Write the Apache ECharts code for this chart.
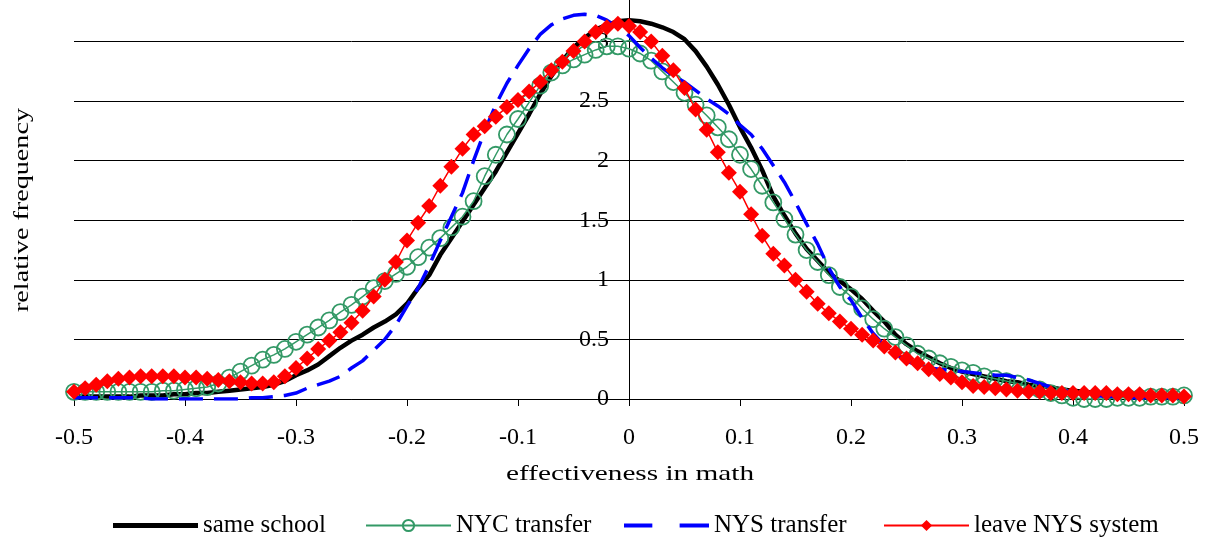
<!DOCTYPE html>
<html>
<head>
<meta charset="utf-8">
<script src="https://cdn.jsdelivr.net/npm/echarts@6/dist/echarts.min.js"></script>
<style>
  html, body { margin: 0; padding: 0; background: #ffffff; }
  #chart { width: 1209px; height: 540px; }
</style>
</head>
<body>
<div id="chart"></div>
<script>
// Teacher effectiveness in math: x positions of the density estimates
const effectiveness = [
  -0.50, -0.49, -0.48, -0.47, -0.46, -0.45, -0.44, -0.43, -0.42, -0.41,
  -0.40, -0.39, -0.38, -0.37, -0.36, -0.35, -0.34, -0.33, -0.32, -0.31,
  -0.30, -0.29, -0.28, -0.27, -0.26, -0.25, -0.24, -0.23, -0.22, -0.21,
  -0.20, -0.19, -0.18, -0.17, -0.16, -0.15, -0.14, -0.13, -0.12, -0.11,
  -0.10, -0.09, -0.08, -0.07, -0.06, -0.05, -0.04, -0.03, -0.02, -0.01,
   0.00,
   0.01,  0.02,  0.03,  0.04,  0.05,  0.06,  0.07,  0.08,  0.09,  0.10,
   0.11,  0.12,  0.13,  0.14,  0.15,  0.16,  0.17,  0.18,  0.19,  0.20,
   0.21,  0.22,  0.23,  0.24,  0.25,  0.26,  0.27,  0.28,  0.29,  0.30,
   0.31,  0.32,  0.33,  0.34,  0.35,  0.36,  0.37,  0.38,  0.39,  0.40,
   0.41,  0.42,  0.43,  0.44,  0.45,  0.46,  0.47,  0.48,  0.49,  0.50
];

// Relative frequency for each group of teachers
const sameSchool = [
  0.02, 0.02, 0.02, 0.02, 0.02, 0.02, 0.03, 0.03, 0.03, 0.04,
  0.04, 0.05, 0.05, 0.06, 0.07, 0.08, 0.09, 0.10, 0.12, 0.15,
  0.20, 0.24, 0.29, 0.36, 0.43, 0.49, 0.54, 0.60, 0.65, 0.71,
  0.80, 0.93, 1.04, 1.21, 1.35, 1.49, 1.63, 1.77, 1.91, 2.07,
  2.23, 2.39, 2.56, 2.71, 2.84, 2.95, 3.03, 3.10, 3.14, 3.17,
  3.18,
  3.17, 3.15, 3.12, 3.08, 3.02, 2.92, 2.79, 2.64, 2.47, 2.28,
  2.11, 1.92, 1.70, 1.54, 1.39, 1.26, 1.16, 1.06, 0.99, 0.92,
  0.84, 0.74, 0.65, 0.54, 0.46, 0.40, 0.35, 0.30, 0.26, 0.23,
  0.21, 0.19, 0.17, 0.15, 0.14, 0.12, 0.11, 0.10, 0.08, 0.07,
  0.06, 0.05, 0.04, 0.04, 0.03, 0.03, 0.03, 0.02, 0.02, 0.02
];

const nycTransfer = [
  0.06, 0.06, 0.06, 0.06, 0.06, 0.06, 0.06, 0.06, 0.07, 0.07,
  0.08, 0.09, 0.10, 0.13, 0.18, 0.23, 0.28, 0.33, 0.37, 0.42,
  0.48, 0.54, 0.60, 0.66, 0.73, 0.79, 0.86, 0.93, 0.99, 1.05,
  1.11, 1.19, 1.27, 1.35, 1.44, 1.53, 1.66, 1.87, 2.05, 2.22,
  2.35, 2.49, 2.63, 2.74, 2.80, 2.85, 2.89, 2.93, 2.96, 2.96,
  2.94,
  2.90, 2.84, 2.75, 2.66, 2.57, 2.47, 2.38, 2.28, 2.18, 2.05,
  1.93, 1.79, 1.65, 1.51, 1.38, 1.25, 1.15, 1.04, 0.94, 0.86,
  0.76, 0.67, 0.59, 0.52, 0.45, 0.38, 0.34, 0.30, 0.27, 0.24,
  0.22, 0.19, 0.17, 0.15, 0.13, 0.10, 0.08, 0.05, 0.03, 0.01,
  0.00, 0.00, 0.00, 0.01, 0.01, 0.01, 0.02, 0.02, 0.02, 0.03
];

const nysTransfer = [
  0.01, 0.01, 0.01, 0.01, 0.01, 0.01, 0.01, 0.00, 0.00, 0.00,
  0.00, 0.00, 0.00, 0.00, 0.00, 0.00, 0.01, 0.01, 0.02, 0.03,
  0.05, 0.09, 0.12, 0.15, 0.19, 0.26, 0.32, 0.41, 0.50, 0.62,
  0.78, 0.93, 1.12, 1.33, 1.53, 1.73, 2.00, 2.25, 2.47, 2.65,
  2.80, 2.94, 3.06, 3.14, 3.19, 3.22, 3.23, 3.22, 3.18, 3.12,
  3.05,
  2.95, 2.86, 2.78, 2.71, 2.66, 2.59, 2.52, 2.46, 2.39, 2.30,
  2.22, 2.10, 1.96, 1.82, 1.65, 1.47, 1.30, 1.10, 0.94, 0.83,
  0.68, 0.55, 0.45, 0.38, 0.32, 0.28, 0.26, 0.25, 0.24, 0.23,
  0.22, 0.21, 0.20, 0.20, 0.18, 0.16, 0.13, 0.10, 0.08, 0.05,
  0.04, 0.03, 0.02, 0.02, 0.01, 0.01, 0.01, 0.01, 0.01, 0.01
];

const leaveSystem = [
  0.06, 0.09, 0.12, 0.15, 0.17, 0.18, 0.19, 0.19, 0.19, 0.19,
  0.18, 0.18, 0.17, 0.16, 0.15, 0.14, 0.13, 0.13, 0.14, 0.19,
  0.26, 0.34, 0.42, 0.49, 0.56, 0.64, 0.74, 0.86, 1.00, 1.15,
  1.33, 1.48, 1.62, 1.79, 1.95, 2.10, 2.22, 2.29, 2.37, 2.45,
  2.51, 2.58, 2.66, 2.76, 2.83, 2.92, 3.00, 3.08, 3.12, 3.15,
  3.13,
  3.08, 3.00, 2.88, 2.76, 2.61, 2.43, 2.26, 2.07, 1.90, 1.74,
  1.55, 1.37, 1.22, 1.12, 1.00, 0.90, 0.80, 0.72, 0.65, 0.59,
  0.54, 0.49, 0.44, 0.39, 0.34, 0.30, 0.25, 0.21, 0.18, 0.14,
  0.11, 0.10, 0.09, 0.08, 0.07, 0.06, 0.06, 0.05, 0.05, 0.05,
  0.05, 0.05, 0.05, 0.04, 0.04, 0.04, 0.03, 0.03, 0.03, 0.02
];

const seriesNames = ['same school', 'NYC transfer', 'NYS transfer', 'leave NYS system'];

// Axis ranges and tick steps
const xRange = { min: -0.5, max: 0.5, step: 0.1 };
const yRange = { min: 0, max: 3.5, step: 0.5 };

const FONT = "Liberation Serif";
const GRID = { left: 74, right: 25, top: -18, bottom: 141 };
const CHART_W = 1209;

const toPairs = ys => effectiveness.map((x, i) => [x, ys[i]]);

// The value axis sits on x = 0, so shift it in from the left edge of the grid
const plotWidth = CHART_W - GRID.left - GRID.right;
const yAxisShift = plotWidth * (0 - xRange.min) / (xRange.max - xRange.min);

// One legend entry per component so each entry keeps its own place on the row
const legendLeft = [108, 360, 619, 878];
const legendIcons = [
  'path://M0,0H85V5H0Z',                     // thick solid line
  null,                                      // line with circle
  'path://M0,0H27V4H0Z M53,0H81V4H53Z',      // two dashes
  null                                       // line with diamond
];
const legends = seriesNames.map((name, i) => ({
  show: true,
  left: legendLeft[i],
  top: 508,
  orient: 'horizontal',
  itemWidth: 85,
  itemHeight: 14,
  itemGap: 0,
  selectedMode: false,
  data: [legendIcons[i] ? { name: name, icon: legendIcons[i] } : { name: name }],
  textStyle: { fontFamily: FONT, fontSize: 25, color: '#000000' }
}));

const chart = echarts.init(document.getElementById('chart'), null, { renderer: 'canvas' });

chart.setOption({
  animation: false,
  backgroundColor: '#ffffff',
  textStyle: { fontFamily: FONT, color: '#000000' },
  grid: {
    left: GRID.left,
    right: GRID.right,
    top: GRID.top,
    bottom: GRID.bottom,
    containLabel: false,
    outerBoundsMode: 'none'
  },
  xAxis: {
    type: 'value',
    min: xRange.min,
    max: xRange.max,
    interval: xRange.step,
    axisLine: { show: true, onZero: true, lineStyle: { color: '#000', width: 1 } },
    axisTick: { show: true, inside: false, length: 7, lineStyle: { color: '#000', width: 1 } },
    axisLabel: {
      show: true,
      margin: 27,
      fontFamily: FONT,
      fontSize: 24,
      color: '#000',
      showMinLabel: true,
      showMaxLabel: true
    },
    splitLine: { show: false }
  },
  yAxis: {
    type: 'value',
    position: 'left',
    offset: -yAxisShift,
    min: yRange.min,
    max: yRange.max,
    interval: yRange.step,
    axisLine: { show: true, onZero: false, lineStyle: { color: '#000', width: 1 } },
    axisTick: { show: true, inside: false, length: 5, lineStyle: { color: '#000', width: 1 } },
    axisLabel: {
      show: true,
      margin: 20,
      fontFamily: FONT,
      fontSize: 24,
      color: '#000',
      showMaxLabel: false
    },
    splitLine: { show: true, lineStyle: { color: '#000', width: 1 } }
  },
  legend: legends,
  graphic: [
    {
      type: 'text',
      x: 22,
      y: 210,
      rotation: Math.PI / 2,
      scaleX: 1.28,
      style: {
        text: 'relative frequency',
        fontFamily: FONT,
        fontSize: 22,
        fill: '#000',
        align: 'center',
        verticalAlign: 'middle'
      }
    },
    {
      type: 'text',
      x: 630,
      y: 474,
      scaleX: 1.33,
      style: {
        text: 'effectiveness in math',
        fontFamily: FONT,
        fontSize: 22,
        fill: '#000',
        align: 'center',
        verticalAlign: 'middle'
      }
    }
  ],
  series: [
    {
      name: seriesNames[0],
      type: 'line',
      data: toPairs(sameSchool),
      symbol: 'none',
      itemStyle: { color: '#000000' },
      lineStyle: { color: '#000000', width: 4.5 },
      emphasis: { disabled: true },
      z: 2
    },
    {
      name: seriesNames[1],
      type: 'line',
      data: toPairs(nycTransfer),
      symbol: 'circle',
      symbolSize: 16,
      showAllSymbol: true,
      itemStyle: { color: 'rgba(0,0,0,0)', borderColor: '#339966', borderWidth: 1.8 },
      lineStyle: { color: '#339966', width: 1.5 },
      emphasis: { disabled: true },
      z: 3
    },
    {
      name: seriesNames[2],
      type: 'line',
      data: toPairs(nysTransfer),
      symbol: 'none',
      itemStyle: { color: '#0000FF' },
      lineStyle: { color: '#0000FF', width: 3.5, type: [24, 11] },
      emphasis: { disabled: true },
      z: 4
    },
    {
      name: seriesNames[3],
      type: 'line',
      data: toPairs(leaveSystem),
      symbol: 'diamond',
      symbolSize: 16,
      showAllSymbol: true,
      itemStyle: { color: '#FF0000' },
      lineStyle: { color: '#FF0000', width: 1.5 },
      emphasis: { disabled: true },
      z: 5
    }
  ]
});
</script>
</body>
</html>
